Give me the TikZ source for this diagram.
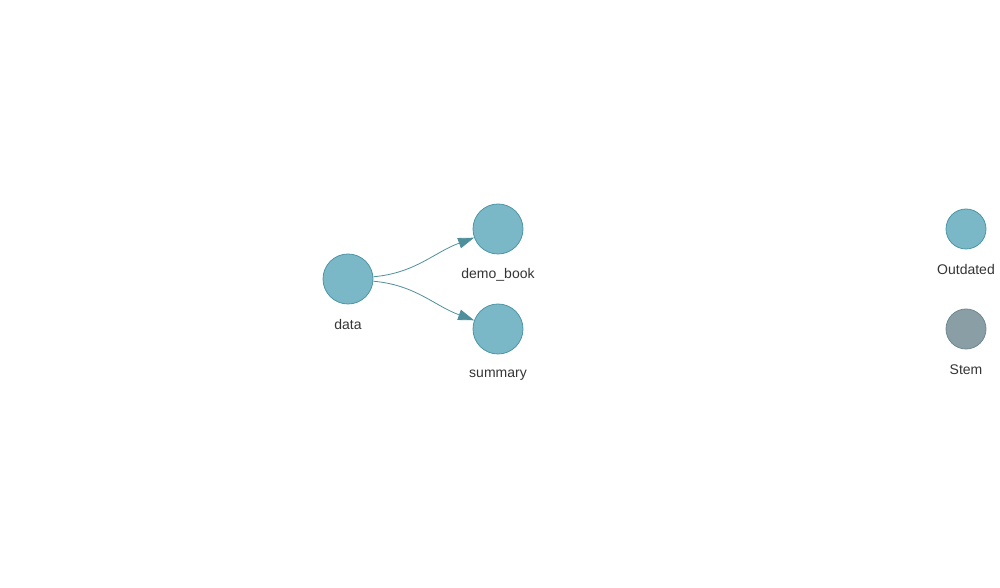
\documentclass[tikz,border=0pt]{standalone}
\usepackage{fontspec}
\setmainfont{Liberation Sans}
\usetikzlibrary{arrows.meta}
\definecolor{nodefill}{HTML}{7AB8C7}
\definecolor{nodeline}{HTML}{4E95A6}
\definecolor{stemfill}{HTML}{8A9EA5}
\definecolor{stemline}{HTML}{71888F}
\definecolor{edgecol}{HTML}{4E8F9C}
\definecolor{txt}{HTML}{343434}
\begin{document}
\begin{tikzpicture}[x=0.75pt,y=0.75pt,
  outdated/.style={circle,draw=nodeline,fill=nodefill,line width=0.6pt,minimum size=37.5pt,inner sep=0pt},
  smalloutdated/.style={circle,draw=nodeline,fill=nodefill,line width=0.6pt,minimum size=30pt,inner sep=0pt},
  stemnode/.style={circle,draw=stemline,fill=stemfill,line width=0.6pt,minimum size=30pt,inner sep=0pt},
  lbl/.style={text=txt,font=\fontsize{10.5pt}{12pt}\selectfont,inner sep=0pt},
  edge/.style={draw=edgecol,line width=0.6pt,-{Triangle[length=12pt,width=8pt]}}]
\useasboundingbox (0,0) rectangle (1000,588);
\node[outdated] (data) at (348,309) {};
\node[outdated] (demo) at (498,359) {};
\node[outdated] (summary) at (498,259) {};
\node[smalloutdated] (outd) at (966,359) {};
\node[stemnode] (stem) at (966,259) {};
\node[lbl] (ldata) at (348,263.5) {data};
\node[lbl] (ldemo) at (498,313.5) {demo\_book};
\node[lbl] (lsum) at (498,212.5) {summary};
\node[lbl] (lout) at (966,318.5) {Outdated};
\node[lbl] (lstem) at (966,218.5) {Stem};
\draw[edge] (data) to[out=5,in=200] (demo);
\draw[edge] (data) to[out=-5,in=160] (summary);
\end{tikzpicture}
\end{document}
